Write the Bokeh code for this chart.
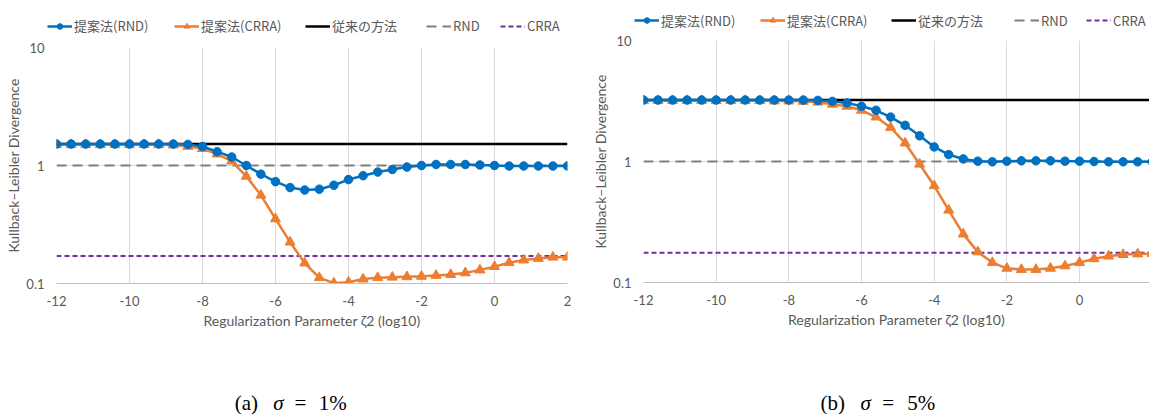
from bokeh.plotting import figure
from bokeh.models import (Range1d, FixedTicker, CustomJSTickFormatter, Legend,
                          LegendItem, Label, Column, Row)
from bokeh.embed import file_html
from bokeh.resources import INLINE

# ---------------- data ----------------
zeta_log10 = [-12, -11.6, -11.2, -10.8, -10.4, -10, -9.6, -9.2, -8.8, -8.4,
              -8, -7.6, -7.2, -6.8, -6.4, -6.0, -5.6, -5.2, -4.8, -4.4,
              -4.0, -3.6, -3.2, -2.8, -2.4, -2.0, -1.6, -1.2, -0.8, -0.4,
              0, 0.4, 0.8, 1.2, 1.6, 2.0]

a_proposed_rnd = [1.52, 1.52, 1.52, 1.52, 1.52, 1.52, 1.52, 1.52, 1.52, 1.51,
                  1.45, 1.31, 1.18, 1.00, 0.845, 0.73, 0.65, 0.62, 0.63, 0.68,
                  0.76, 0.82, 0.88, 0.925, 0.97, 1.00, 1.02, 1.02, 1.02, 1.01,
                  1.00, 0.99, 0.99, 0.99, 0.99, 0.99]
a_proposed_crra = [1.50, 1.50, 1.50, 1.50, 1.50, 1.50, 1.50, 1.50, 1.49, 1.45,
                   1.39, 1.25, 1.09, 0.81, 0.56, 0.353, 0.224, 0.149, 0.112, 0.1007,
                   0.1026, 0.109, 0.112, 0.113, 0.114, 0.115, 0.117, 0.119, 0.123, 0.130,
                   0.139, 0.150, 0.158, 0.163, 0.167, 0.167]
a_conventional = 1.52
a_rnd_ref = 1.0
a_crra_ref = 0.171

b_proposed_rnd = [3.22, 3.22, 3.22, 3.22, 3.22, 3.22, 3.22, 3.22, 3.22, 3.22,
                  3.22, 3.22, 3.20, 3.14, 3.05, 2.86, 2.65, 2.33, 1.99, 1.63,
                  1.32, 1.14, 1.05, 1.006, 0.994, 1.006, 1.013, 1.013, 1.013, 1.006,
                  1.006, 1.0, 0.994, 0.994, 0.994, 0.994]
b_proposed_crra = [3.18, 3.18, 3.18, 3.18, 3.18, 3.18, 3.18, 3.18, 3.18, 3.16,
                   3.16, 3.14, 3.09, 2.97, 2.86, 2.65, 2.33, 1.91, 1.42, 0.95,
                   0.63, 0.396, 0.251, 0.179, 0.146, 0.131, 0.128, 0.128, 0.131, 0.137,
                   0.146, 0.157, 0.165, 0.170, 0.172, 0.173]
b_conventional = 3.22
b_rnd_ref = 1.0
b_crra_ref = 0.176

x_ticks = [-12, -10, -8, -6, -4, -2, 0, 2]
y_ticks = [0.1, 1, 10]
legend_labels = ["提案法(RND)", "提案法(CRRA)", "従来の方法", "RND", "CRRA"]
x_title = "Regularization Parameter ζ2 (log10)"
y_title = "Kullback\u2013Leibler Divergence"
captions = [("(a)", "σ", "=", "1%"), ("(b)", "σ", "=", "5%")]

# ---------------- styling ----------------
BLUE = "#0070C0"
ORANGE = "#ED7D31"
GRAY = "#7F7F7F"
PURPLE = "#7030A0"
TXT = "#595959"
GRID = "#d9d9d9"
LATIN = "Lato"
CJK = "Noto Sans CJK JP"

STYLE_RND = dict(line_color=BLUE, line_width=2.5)
STYLE_RND_M = dict(marker="circle", size=8.5, fill_color=BLUE, line_color=BLUE)
STYLE_CRRA = dict(line_color=ORANGE, line_width=2.5)
STYLE_CRRA_M = dict(marker="triangle", size=10, fill_color=ORANGE, line_color=ORANGE)
STYLE_CONV = dict(line_color="black", line_width=2.5)
STYLE_RND_REF = dict(line_color=GRAY, line_width=2, line_dash="10 6")
STYLE_CRRA_REF = dict(line_color=PURPLE, line_width=2, line_dash="5 3")


def blank_fig(width, height, xr=(0, 1), yr=(0, 1)):
    f = figure(width=width, height=height, output_backend="svg", toolbar_location=None,
               x_axis_location=None, y_axis_location=None,
               min_border_left=0, min_border_right=0, min_border_top=0,
               min_border_bottom=0, x_range=Range1d(*xr), y_range=Range1d(*yr))
    f.outline_line_color = None
    f.grid.visible = False
    return f


def draw_series(f, rnd, crra, conv, rnd_ref, crra_ref):
    xs_full = [zeta_log10[0], zeta_log10[-1]]
    r = {}
    r["rnd_ref"] = f.line(xs_full, [rnd_ref, rnd_ref], **STYLE_RND_REF)
    r["crra_ref"] = f.line(xs_full, [crra_ref, crra_ref], **STYLE_CRRA_REF)
    r["conv"] = f.line(xs_full, [conv, conv], **STYLE_CONV)
    r["crra_l"] = f.line(zeta_log10, crra, **STYLE_CRRA)
    r["crra_m"] = f.scatter(zeta_log10, crra, **STYLE_CRRA_M)
    r["rnd_l"] = f.line(zeta_log10, rnd, **STYLE_RND)
    r["rnd_m"] = f.scatter(zeta_log10, rnd, **STYLE_RND_M)
    return r


def make_legend(series, width, height, xs, y):
    # legend strip: same series drawn, but its view range lies outside the data
    f = blank_fig(width, height, xr=(100, 101), yr=(100, 101))
    r = draw_series(f, *series)
    groups = [[r["rnd_l"], r["rnd_m"]], [r["crra_l"], r["crra_m"]], [r["conv"]],
              [r["rnd_ref"]], [r["crra_ref"]]]
    for i, g in enumerate(groups):
        lg = Legend(items=[LegendItem(label=legend_labels[i], renderers=g)],
                    orientation="horizontal", location=(xs[i], y),
                    glyph_width=25, glyph_height=14, label_height=14,
                    label_standoff=2, spacing=0, padding=0, margin=0,
                    background_fill_alpha=0, border_line_alpha=0,
                    label_text_font=CJK, label_text_font_size="13px",
                    label_text_color=TXT)
        f.add_layout(lg)
    return f


def make_chart(series, x_end, geo):
    p = figure(width=geo["w"], height=geo["h"], y_axis_type="log",
               x_range=Range1d(zeta_log10[0], x_end),
               y_range=Range1d(y_ticks[0], y_ticks[-1]),
               output_backend="svg", toolbar_location=None,
               min_border_left=geo["l"], min_border_right=geo["r"],
               min_border_top=geo["t"], min_border_bottom=geo["b"])
    p.outline_line_color = None

    p.xaxis.ticker = FixedTicker(ticks=x_ticks, minor_ticks=[])
    p.yaxis.ticker = FixedTicker(ticks=y_ticks, minor_ticks=[])
    p.xaxis.formatter = CustomJSTickFormatter(code="return tick.toFixed(0);")
    p.yaxis.formatter = CustomJSTickFormatter(
        code="return tick < 1 ? tick.toFixed(1) : tick.toFixed(0);")
    for ax in (p.xaxis[0], p.yaxis[0]):
        ax.major_tick_line_color = None
        ax.minor_tick_line_color = None
        ax.major_tick_out = 0
        ax.major_tick_in = 0
        ax.minor_tick_out = 0
        ax.minor_tick_in = 0
        ax.major_label_text_font = LATIN
        ax.major_label_text_font_size = "13px"
        ax.major_label_text_color = TXT
        ax.axis_label_text_font = LATIN
        ax.axis_label_text_font_size = "14px"
        ax.axis_label_text_font_style = "normal"
        ax.axis_label_text_color = TXT
    p.xaxis.axis_line_color = "#bfbfbf"
    p.yaxis.axis_line_color = None
    p.xaxis.axis_label = x_title
    p.yaxis.axis_label = y_title
    p.xaxis.major_label_standoff = 12
    p.xaxis.axis_label_standoff = 3
    p.yaxis.major_label_standoff = 12
    p.yaxis.axis_label_standoff = 1

    p.xgrid.grid_line_color = GRID
    p.ygrid.grid_line_color = GRID
    draw_series(p, *series)
    return p


def make_caption(parts, width, height, xs):
    c = blank_fig(width, height)
    for i, part in enumerate(parts):
        c.add_layout(Label(x=xs[i], y=12, x_units="screen", y_units="screen",
                           text=part, text_font="Liberation Serif", text_font_size="21px",
                           text_font_style="italic" if part == "σ" else "normal",
                           text_color="black", text_align="left",
                           text_baseline="alphabetic"))
    return c


def isolated(fig):
    # wrap each figure so that its frame is not aligned with its neighbours
    return Column(children=[fig])


series_a = (a_proposed_rnd, a_proposed_crra, a_conventional, a_rnd_ref, a_crra_ref)
series_b = (b_proposed_rnd, b_proposed_crra, b_conventional, b_rnd_ref, b_crra_ref)

la = make_legend(series_a, 580, 37, [47, 174, 305, 426, 500], 2)
pa = make_chart(series_a, x_ticks[-1], dict(w=580, h=319, l=56, r=13, t=10, b=73))
ca = make_caption(captions[0], 580, 58, [234.3, 272.7, 294, 318.3])

lb = make_legend(series_b, 569, 31, [54, 180, 311, 434, 506], 1.3)
pb = make_chart(series_b, 1.926, dict(w=569, h=325, l=63, r=0, t=9, b=74))
cb = make_caption(captions[1], 569, 58, [240, 280, 301.7, 326.7])

col_a = Column(children=[isolated(la), isolated(pa), isolated(ca)])
col_b = Column(children=[isolated(lb), isolated(pb), isolated(cb)])
layout = Row(children=[col_a, col_b])
open("out.html", "w").write(file_html(layout, INLINE))
